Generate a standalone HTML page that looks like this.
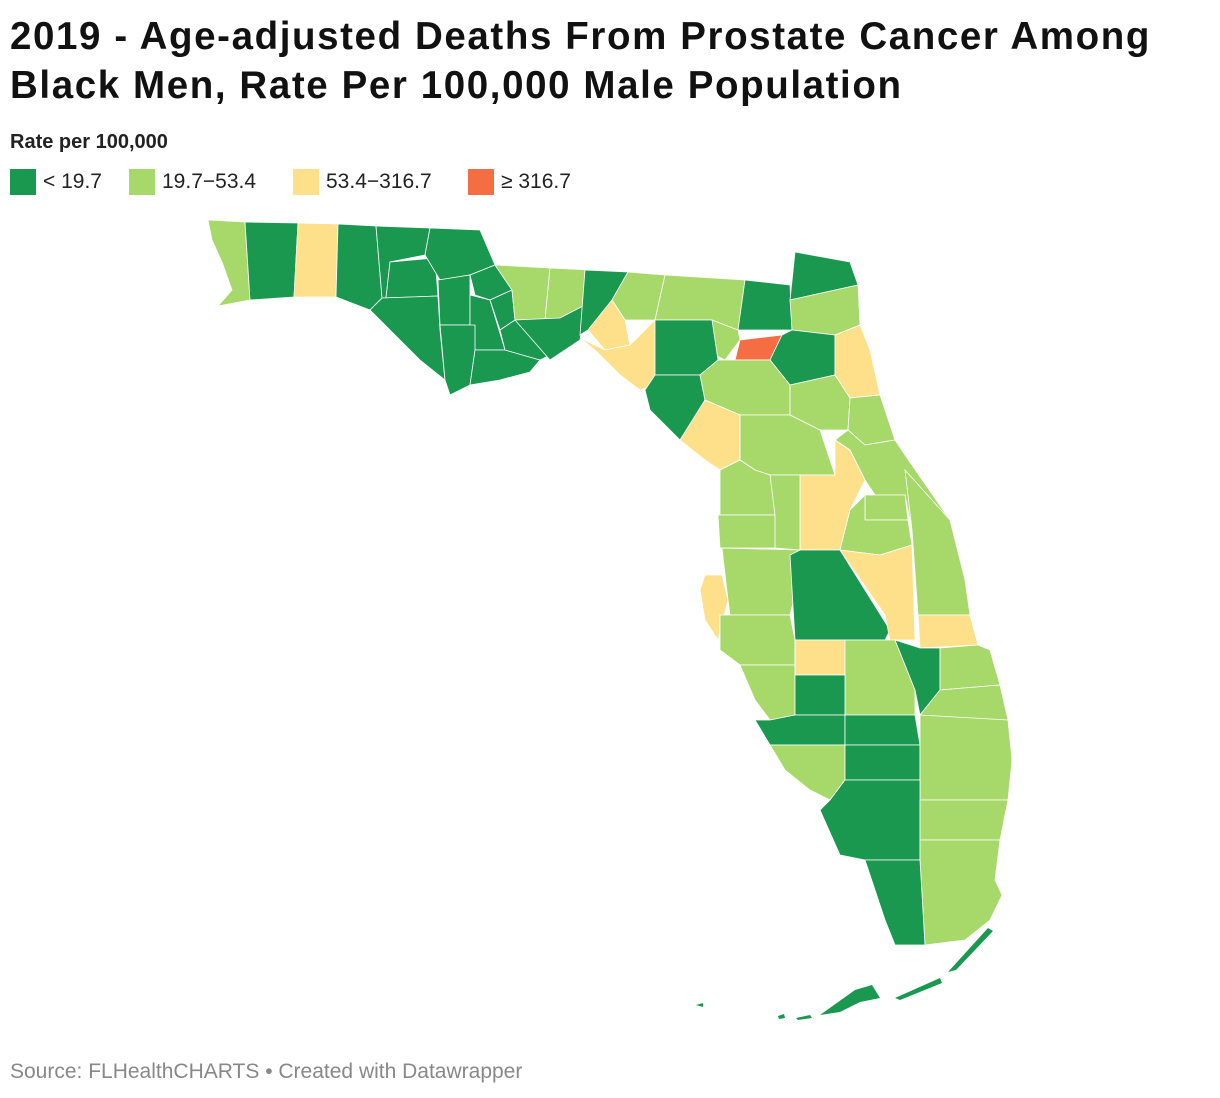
<!DOCTYPE html>
<html><head><meta charset="utf-8">
<style>
body{margin:0;background:#fff;width:1220px;height:1098px;overflow:hidden;font-family:"Liberation Sans",sans-serif;}
h1{position:absolute;left:10px;top:12px;margin:0;font-size:38.5px;line-height:49px;font-weight:bold;color:#111;letter-spacing:1.6px;white-space:nowrap}
.lt{position:absolute;left:10px;top:131px;font-size:20px;font-weight:bold;color:#222}
.leg{position:absolute;top:169px;display:flex;align-items:center;font-size:21px;color:#222}
.leg span{display:inline-block;width:26px;height:26px;margin-right:7px}
.src{position:absolute;left:10px;top:1060px;font-size:21px;color:#888}
svg{position:absolute;left:0;top:0}
</style></head><body>
<h1>2019 - Age-adjusted Deaths From Prostate Cancer Among<br>Black Men, Rate Per 100,000 Male Population</h1>
<div class="lt">Rate per 100,000</div>
<div class="leg" style="left:10px"><span style="background:#1a9850"></span>&lt; 19.7</div>
<div class="leg" style="left:129px"><span style="background:#a6d96a"></span>19.7−53.4</div>
<div class="leg" style="left:293px"><span style="background:#fee08b"></span>53.4−316.7</div>
<div class="leg" style="left:468px"><span style="background:#f46d43"></span>≥ 316.7</div>
<svg id="map" width="1220" height="1098"></svg>
<div class="src">Source: FLHealthCHARTS • Created with Datawrapper</div>
<script>
const thresholds=[19.7,53.4,316.7];
const colors=["#1a9850","#a6d96a","#fee08b","#f46d43"];
const counties=["Escambia","Santa Rosa","Okaloosa","Walton","Holmes","Washington","Jackson","Bay","Calhoun","Gadsden","Liberty","Gulf","Franklin","Leon","Wakulla","Jefferson","Madison","Taylor","Hamilton","Suwannee","Lafayette","Dixie","Columbia","Baker","Nassau","Duval","Union","Bradford","Clay","St. Johns","Gilchrist","Levy","Alachua","Putnam","Flagler","Marion","Citrus","Volusia","Lake","Sumter","Hernando","Pasco","Pinellas","Hillsborough","Polk","Seminole","Orange","Osceola","Brevard","Indian River","Manatee","Hardee","Highlands","Okeechobee","St. Lucie","Martin","Sarasota","DeSoto","Charlotte","Glades","Lee","Hendry","Palm Beach","Collier","Broward","Miami-Dade","Monroe"];
const values=[35,10,100,10,10,10,10,10,10,10,10,10,10,10,10,35,35,10,10,35,100,100,35,10,10,35,35,400,10,100,10,10,35,35,35,35,100,35,100,35,35,35,100,35,10,35,35,100,35,100,35,100,35,10,35,35,35,10,10,10,35,10,35,10,35,35,10];
const shapes=[
[[208,220],[245,222],[250,300],[218,306],[232,290],[222,262],[212,240]],
[[245,222],[298,223],[294,297],[250,300]],
[[298,223],[338,224],[336,297],[294,297]],
[[338,224],[376,226],[382,298],[370,310],[336,297]],
[[376,226],[430,228],[425,255],[390,262],[386,298],[382,298]],
[[390,262],[435,258],[438,296],[386,298]],
[[430,228],[480,230],[495,265],[470,275],[440,280],[425,255]],
[[370,310],[382,298],[438,296],[440,330],[445,380],[420,360],[390,330]],
[[438,280],[470,275],[470,325],[440,325]],
[[470,275],[495,265],[512,290],[490,300],[475,295]],
[[470,295],[490,300],[505,350],[475,350],[470,325]],
[[440,325],[475,325],[475,350],[470,385],[450,395],[445,380]],
[[475,350],[505,350],[540,360],[530,372],[500,380],[470,385]],
[[490,300],[512,290],[515,320],[500,330]],
[[500,330],[515,320],[545,320],[550,355],[540,360],[505,350]],
[[495,265],[550,268],[545,320],[515,320],[512,290]],
[[550,268],[590,270],[585,305],[560,318],[545,320]],
[[515,320],[560,318],[585,305],[580,340],[550,360]],
[[585,270],[628,272],[612,300],[588,330],[580,335]],
[[628,272],[665,275],[655,320],[625,320],[612,300]],
[[588,330],[612,300],[625,320],[630,345],[605,350]],
[[580,338],[605,350],[630,345],[655,320],[655,385],[640,390],[620,375],[595,350]],
[[665,275],[745,280],[738,330],[718,345],[712,320],[655,320]],
[[745,280],[790,285],[792,330],[738,330]],
[[795,252],[850,262],[858,285],[790,300]],
[[790,300],[858,285],[860,325],[835,335],[792,330]],
[[712,320],[738,330],[740,340],[725,360],[715,355]],
[[740,340],[782,335],[770,360],[735,360]],
[[782,335],[792,330],[835,335],[835,375],[790,385],[770,360]],
[[835,335],[860,325],[870,350],[880,395],[850,398],[835,375]],
[[655,320],[712,320],[718,360],[700,375],[655,375]],
[[655,375],[700,375],[705,400],[680,440],[650,410],[645,390]],
[[718,360],[735,360],[770,360],[790,385],[790,415],[740,415],[705,400],[700,375]],
[[790,385],[835,375],[850,398],[848,430],[820,430],[790,415]],
[[850,398],[880,395],[895,440],[865,445],[848,430]],
[[740,415],[790,415],[820,430],[835,475],[800,475],[770,475],[755,470],[740,460]],
[[705,400],[740,415],[740,460],[720,470],[705,460],[680,440]],
[[848,430],[865,445],[895,440],[905,455],[950,520],[912,530],[905,495],[875,495],[865,480],[850,450],[835,440]],
[[835,440],[850,450],[865,480],[850,510],[840,550],[800,550],[800,475],[835,475]],
[[770,475],[800,475],[800,550],[775,548]],
[[720,470],[740,460],[755,470],[770,475],[775,515],[720,515]],
[[718,515],[775,515],[775,548],[720,548]],
[[705,575],[722,575],[728,600],[718,640],[705,620],[700,590]],
[[722,548],[800,550],[800,575],[790,615],[730,615],[728,600]],
[[790,555],[800,550],[840,550],[890,630],[885,640],[795,640]],
[[865,495],[905,495],[908,520],[865,520]],
[[850,510],[865,495],[865,520],[908,520],[912,545],[880,555],[840,550]],
[[840,550],[880,555],[912,545],[915,640],[890,640],[885,615]],
[[905,470],[950,520],[965,580],[970,615],[918,615],[912,530]],
[[918,615],[970,615],[978,645],[920,648]],
[[720,615],[790,615],[795,640],[795,665],[740,665],[720,650]],
[[795,640],[845,640],[845,675],[795,675]],
[[845,640],[895,640],[915,690],[915,715],[845,715]],
[[895,640],[920,648],[940,648],[940,690],[920,715],[915,690]],
[[940,648],[978,645],[990,650],[1000,685],[940,690]],
[[920,715],[940,690],[1000,685],[1008,720],[925,720]],
[[740,665],[795,665],[795,715],[770,720],[755,700]],
[[795,675],[845,675],[845,715],[795,715]],
[[755,720],[770,720],[795,715],[845,715],[845,745],[770,745]],
[[845,715],[915,715],[920,745],[845,745]],
[[770,745],[845,745],[845,780],[830,800],[810,790],[785,770]],
[[845,745],[920,745],[920,780],[880,780],[845,780]],
[[920,715],[1008,720],[1012,760],[1008,800],[920,800]],
[[830,800],[845,780],[880,780],[920,780],[920,860],[865,860],[840,855],[820,810]],
[[920,800],[1008,800],[1000,840],[920,840]],
[[920,840],[1000,840],[995,880],[1002,895],[990,920],[965,940],[925,945],[920,860]],
[[865,860],[920,860],[925,945],[895,945],[885,920]]
];
const keys=[[[820,1015],[855,990],[872,985],[880,998],[860,1002],[840,1012]],[[895,998],[940,978],[942,983],[900,1000]],[[948,972],[988,928],[993,931],[956,970]],[[778,1016],[784,1014],[785,1018],[779,1019]],[[796,1018],[810,1015],[812,1018],[798,1020]],[[696,1005],[703,1003],[703,1007]]];
const NS="http://www.w3.org/2000/svg";
const svg=document.getElementById('map');
function colorFor(v){let i=0;while(i<thresholds.length&&v>=thresholds[i])i++;return colors[i];}
counties.forEach((c,i)=>{
  const p=document.createElementNS(NS,'polygon');
  p.setAttribute('points',shapes[i].map(q=>q.join(',')).join(' '));
  p.setAttribute('fill',colorFor(values[i]));
  p.setAttribute('stroke','#fff');p.setAttribute('stroke-width','0.8');
  
  
  const t=document.createElementNS(NS,'title');t.textContent=c+': '+values[i];p.appendChild(t);
  svg.appendChild(p);
});
keys.forEach(k=>{
  const p=document.createElementNS(NS,'polygon');
  p.setAttribute('points',k.map(q=>q.join(',')).join(' '));
  p.setAttribute('fill',colorFor(values[counties.indexOf('Monroe')]));
  
  
  svg.appendChild(p);
});
</script>
</body></html>
